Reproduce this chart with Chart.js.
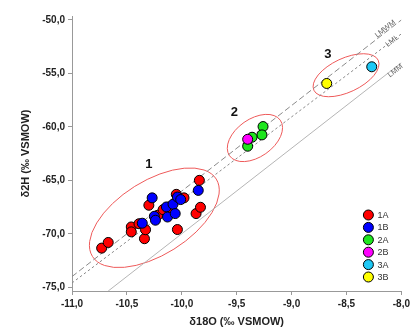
<!DOCTYPE html>
<html>
<head>
<meta charset="utf-8">
<script src="https://cdn.jsdelivr.net/npm/chart.js@4.4.1/dist/chart.umd.min.js"></script>
<style>
  html, body { margin: 0; padding: 0; background: #fff; }
</style>
</head>
<body>
<canvas id="chart" width="413" height="331"></canvas>
<script>
// groups
const groupLabels = ['1A', '1B', '2A', '2B', '3A', '3B'];
const groupColors = ['#ff0000', '#0000ff', '#1ee61e', '#ff00ff', '#1ec8f5', '#ffff00'];

// δ18O / δ2H per group
const d18O_1A = [-10.73, -10.67, -10.46, -10.46, -10.39, -10.34, -10.33, -10.30, -10.22, -10.17, -10.08, -10.04, -10.05, -9.98, -9.87, -9.83, -9.84];
const d2H_1A  = [-71.34, -70.81, -69.36, -69.82, -69.06, -70.46, -69.62, -67.33, -68.27, -67.74, -67.96, -69.60, -66.31, -66.64, -68.11, -67.52, -65.00];
const d18O_1B = [-10.36, -10.27, -10.25, -10.24, -10.14, -10.13, -10.08, -10.06, -10.04, -10.01, -9.85];
const d2H_1B  = [-69.01, -66.64, -68.36, -68.73, -67.49, -68.43, -67.24, -68.11, -66.56, -66.80, -65.94];
const d18O_2A = [-9.26, -9.27, -9.36, -9.40];
const d2H_2A  = [-59.97, -60.75, -60.97, -61.81];
const d18O_2B = [-9.40];
const d2H_2B  = [-61.16];
const d18O_3A = [-8.27];
const d2H_3A  = [-54.38];
const d18O_3B = [-8.68];
const d2H_3B  = [-55.94];

// meteoric water lines (end points)
const lineNames = ['LMWM', 'LML', 'LMM'];
const lineX = [[-11, -8], [-11, -8], [-10.67, -8]];
const lineY = [[-74, -50], [-74.6, -51.3], [-75.35, -54]];

// cluster ellipses: centre in data units
const clusterNames = ['1', '2', '3'];
const clusterCx = [-10.25, -9.334, -8.504];
const clusterCy = [-68.5, -61.04, -55.17];
const clusterLabelX = [-10.30, -9.522, -8.669];
const clusterLabelY = [-63.51, -58.67, -53.26];

const xTicks = [-11, -10.5, -10, -9.5, -9, -8.5, -8];
const yTicks = [-75, -70, -65, -60, -55, -50];

const FONT = "'Liberation Sans', Arial, sans-serif";
const fmt = v => v.toFixed(1).replace('.', ',');

const groupX = [d18O_1A, d18O_1B, d18O_2A, d18O_2B, d18O_3A, d18O_3B];
const groupY = [d2H_1A, d2H_1B, d2H_2A, d2H_2B, d2H_3A, d2H_3B];

const datasets = groupLabels.map((lab, i) => ({
  label: lab,
  data: groupX[i].map((x, j) => ({ x: x, y: groupY[i][j] })),
  backgroundColor: groupColors[i],
  borderColor: '#000',
  borderWidth: 1,
  pointRadius: 5,
  order: 10 - i
}));

const lineStyles = [
  { color: '#8a8a8a', dash: [6, 3] },
  { color: '#8a8a8a', dash: [2.5, 2.5] },
  { color: '#b5b5b5', dash: [] }
];
lineNames.forEach((name, i) => {
  datasets.push({
    type: 'line',
    label: name,
    data: lineX[i].map((x, j) => ({ x: x, y: lineY[i][j] })),
    borderColor: lineStyles[i].color,
    borderDash: lineStyles[i].dash,
    borderWidth: 1,
    pointRadius: 0,
    fill: false,
    order: 20
  });
});

// ellipse shapes (pixels, degrees)
const ellipseShape = [
  { a: 73, b: 37, rot: 32 },
  { a: 31, b: 19, rot: 35 },
  { a: 35.5, b: 17, rot: 25 }
];

const decorPlugin = {
  id: 'decor',
  beforeDatasetsDraw(chart) {
    const { ctx, scales: { x, y } } = chart;
    ctx.save();
    ctx.strokeStyle = '#ee5a5a';
    ctx.lineWidth = 1;
    clusterNames.forEach((n, i) => {
      const s = ellipseShape[i];
      ctx.beginPath();
      ctx.ellipse(x.getPixelForValue(clusterCx[i]), y.getPixelForValue(clusterCy[i]), s.a, s.b, -s.rot * Math.PI / 180, 0, Math.PI * 2);
      ctx.stroke();
    });
    ctx.restore();
  },
  afterDatasetsDraw(chart) {
    const { ctx, chartArea, scales: { x, y } } = chart;
    ctx.save();
    // cluster numbers
    ctx.fillStyle = '#111';
    ctx.font = 'bold 13px ' + FONT;
    ctx.textAlign = 'center';
    ctx.textBaseline = 'middle';
    clusterNames.forEach((n, i) => {
      ctx.fillText(n, x.getPixelForValue(clusterLabelX[i]), y.getPixelForValue(clusterLabelY[i]));
    });
    // line names, along the lines
    ctx.font = '7.5px ' + FONT;
    ctx.fillStyle = '#666';
    const labPos = [[-8.147, -50.84], [-8.083, -51.96], [-8.055, -54.75]];
    lineNames.forEach((n, i) => {
      ctx.save();
      ctx.translate(x.getPixelForValue(labPos[i][0]), y.getPixelForValue(labPos[i][1]));
      ctx.rotate(-38 * Math.PI / 180);
      ctx.fillText(n, 0, 0);
      ctx.restore();
    });
    // legend, bottom right inside the plot
    const lx = chartArea.right - 33;
    let ly = chartArea.bottom - 76;
    ctx.font = '9px ' + FONT;
    ctx.textAlign = 'left';
    groupLabels.forEach((lab, i) => {
      ctx.beginPath();
      ctx.arc(lx, ly, 5, 0, Math.PI * 2);
      ctx.fillStyle = groupColors[i];
      ctx.fill();
      ctx.strokeStyle = '#000';
      ctx.lineWidth = 1;
      ctx.stroke();
      ctx.fillStyle = '#333';
      ctx.fillText(lab, lx + 9, ly + 0.5);
      ly += 12.4;
    });
    ctx.restore();
  }
};

new Chart(document.getElementById('chart'), {
  type: 'scatter',
  data: { datasets: datasets },
  plugins: [decorPlugin],
  options: {
    responsive: false,
    animation: false,
    layout: { padding: { left: 0, right: 7, top: 16, bottom: 0 } },
    plugins: { legend: { display: false }, tooltip: { enabled: false } },
    scales: {
      x: {
        type: 'linear',
        min: -11, max: -8,
        afterBuildTicks: s => { s.ticks = xTicks.map(v => ({ value: v })); },
        afterFit: s => { s.height = 40; },
        grid: { drawOnChartArea: false, tickLength: 4, color: '#999' },
        border: { color: '#999' },
        ticks: { callback: v => fmt(v), color: '#222', padding: 3, maxRotation: 0, font: { family: FONT, size: 10, weight: 'bold' } },
        title: { display: true, text: 'δ18O (‰ VSMOW)', color: '#222', padding: { top: 0, bottom: 2 }, font: { family: FONT, size: 11, weight: 'bold' } }
      },
      y: {
        type: 'linear',
        min: -75.35, max: -49.63,
        afterBuildTicks: s => { s.ticks = yTicks.map(v => ({ value: v })); },
        afterFit: s => { s.width = 72; },
        grid: { drawOnChartArea: false, tickLength: 4, color: '#999' },
        border: { color: '#999' },
        ticks: { callback: v => fmt(v), color: '#222', padding: 3, font: { family: FONT, size: 10, weight: 'bold' } },
        title: { display: true, text: 'δ2H (‰ VSMOW)', color: '#222', padding: { top: 19, bottom: 0 }, font: { family: FONT, size: 11, weight: 'bold' } }
      }
    }
  }
});
</script>
</body>
</html>
